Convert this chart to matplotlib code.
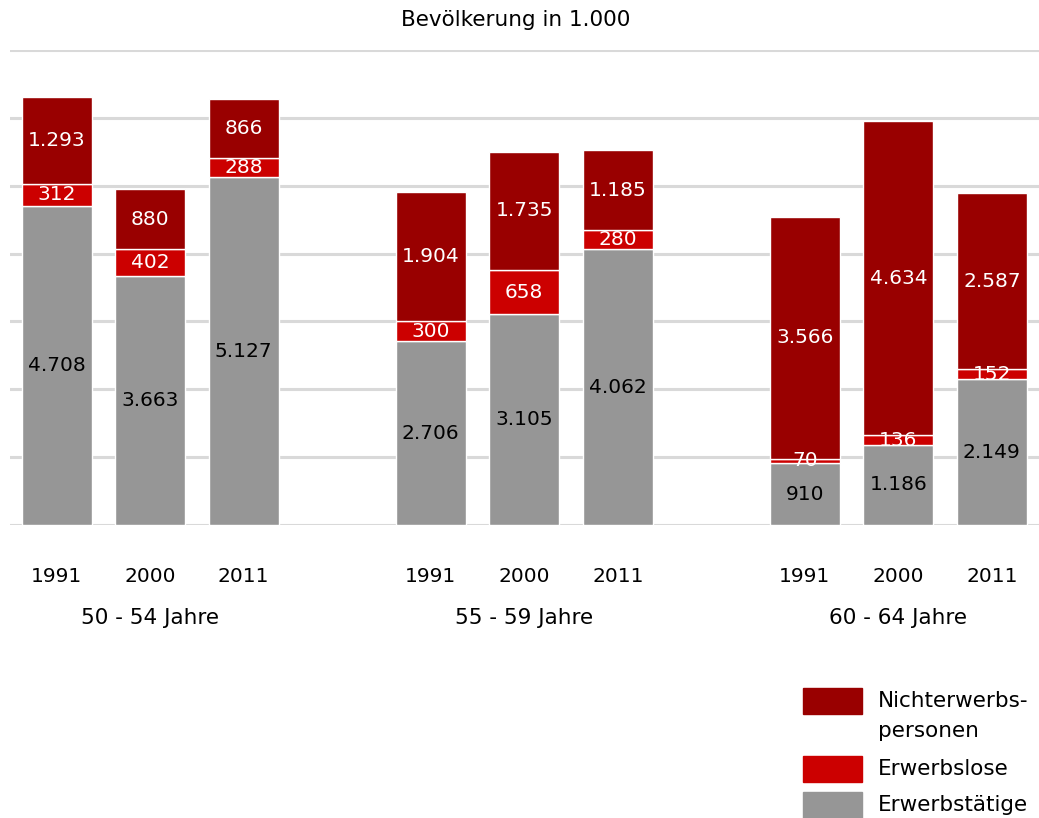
import numpy as np
import matplotlib.pyplot as plt
from matplotlib.patches import Rectangle

plt.rcParams['font.family'] = ['DejaVu Sans']

# Daten (Bevölkerung in 1.000)
gruppen = ['50 - 54 Jahre', '55 - 59 Jahre', '60 - 64 Jahre']
jahre = ['1991', '2000', '2011']
erwerbstaetige = [4708, 3663, 5127, 2706, 3105, 4062, 910, 1186, 2149]
erwerbslose = [312, 402, 288, 300, 658, 280, 70, 136, 152]
nichterwerbs = [1293, 880, 866, 1904, 1735, 1185, 3566, 4634, 2587]

c_grau = '#969696'
c_rot = '#cc0000'
c_dunkel = '#990000'

def fmt(v):
    return f'{v:,}'.replace(',', '.')

W, H = 1039, 818
fig = plt.figure(figsize=(W / 100, H / 100), dpi=100)
ax = fig.add_axes([0.0096, 0.358, 0.99, 0.581])

x = np.array([0, 1, 2, 4, 5, 6, 8, 9, 10])
b1 = np.array(erwerbstaetige)
b2 = b1 + np.array(erwerbslose)

ax.bar(x, erwerbstaetige, width=0.75, color=c_grau, edgecolor='white', linewidth=1, zorder=3)
ax.bar(x, erwerbslose, width=0.75, bottom=b1, color=c_rot, edgecolor='white', linewidth=1, zorder=3)
ax.bar(x, nichterwerbs, width=0.75, bottom=b2, color=c_dunkel, edgecolor='white', linewidth=1, zorder=3)

fs = 14.5
fs2 = 15.5
for i in range(len(x)):
    ax.text(x[i], erwerbstaetige[i] / 2, fmt(erwerbstaetige[i]), ha='center', va='center',
            color='black', fontsize=fs, zorder=4)
    ax.text(x[i], b1[i] + erwerbslose[i] / 2, fmt(erwerbslose[i]), ha='center', va='center',
            color='white', fontsize=fs, zorder=4)
    ax.text(x[i], b2[i] + nichterwerbs[i] / 2, fmt(nichterwerbs[i]), ha='center', va='center',
            color='white', fontsize=fs, zorder=4)

ax.set_xlim(-0.5, 10.5)
ax.set_ylim(0, 7000)
ax.set_yticks(np.arange(0, 7001, 1000))
ax.yaxis.grid(True, color='#d9d9d9', linewidth=2.2, zorder=0)
ax.set_yticklabels([])
ax.tick_params(length=0)
for s in ax.spines.values():
    s.set_visible(False)

ax.set_xticks(x)
ax.set_xticklabels(jahre * 3, fontsize=fs)
ax.tick_params(axis='x', pad=30)
for g, name in enumerate(gruppen):
    ax.text(1 + 4 * g, -1365, name, ha='center', va='center', fontsize=fs2)

fig.text(0.496, 1 - 20 / H, 'Bevölkerung in 1.000', ha='center', va='center', fontsize=fs2)

# Legende
leg_farben = [c_dunkel, c_rot, c_grau]
leg_texte = ['Nichterwerbs-\npersonen', 'Erwerbslose', 'Erwerbstätige']
leg_y = [701, 769, 805]
for farbe, text, yy in zip(leg_farben, leg_texte, leg_y):
    fig.add_artist(Rectangle((803 / W, 1 - (yy + 13) / H), 59 / W, 26 / H,
                             transform=fig.transFigure, color=farbe))
    fig.text(878 / W, 1 - (yy - 10) / H, text, ha='left', va='top', fontsize=fs2,
             linespacing=1.62)

fig.savefig('out.png', dpi=100)
